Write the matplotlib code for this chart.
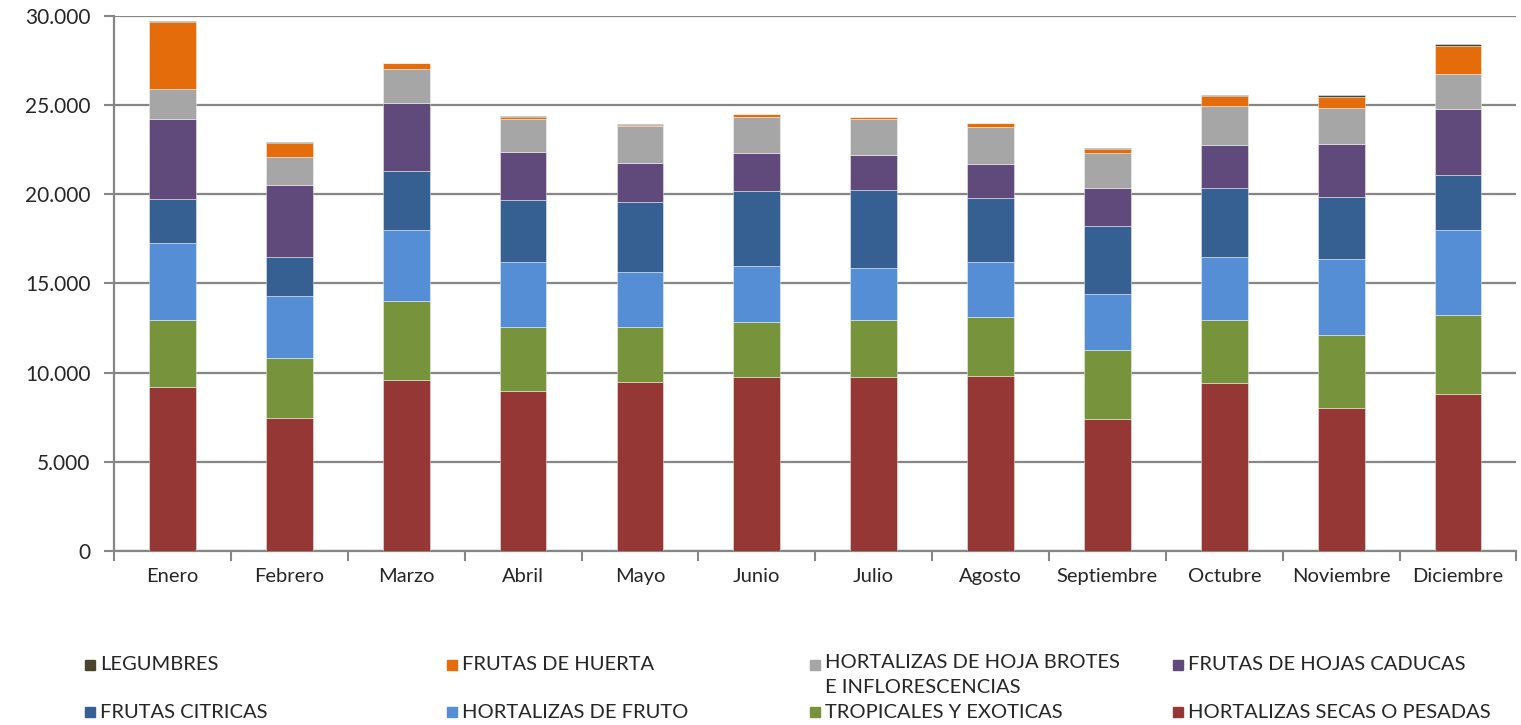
import numpy as np
import matplotlib.pyplot as plt
from matplotlib.patches import Rectangle
from matplotlib.ticker import FuncFormatter

plt.rcParams['font.family'] = ['Lato', 'DejaVu Sans']

months = ['Enero', 'Febrero', 'Marzo', 'Abril', 'Mayo', 'Junio', 'Julio',
          'Agosto', 'Septiembre', 'Octubre', 'Noviembre', 'Diciembre']

# stacked from bottom to top
secas = [9200, 7460, 9590, 8970, 9480, 9760, 9760, 9810, 7400, 9420, 8020, 8800]
tropicales = [3750, 3360, 4430, 3590, 3080, 3080, 3190, 3310, 3870, 3530, 4090, 4430]
fruto = [4320, 3480, 3980, 3650, 3080, 3140, 2920, 3080, 3140, 3530, 4260, 4770]
citricas = [2470, 2190, 3310, 3480, 3930, 4210, 4370, 3590, 3810, 3870, 3480, 3080]
caducas = [4490, 4040, 3810, 2690, 2190, 2130, 1960, 1910, 2130, 2410, 2970, 3700]
hoja = [1680, 1570, 1910, 1850, 2070, 2020, 2020, 2080, 1960, 2190, 2020, 1960]
huerta = [3760, 790, 330, 110, 60, 170, 110, 220, 220, 560, 620, 1570]
legumbres = [60, 40, 20, 50, 30, 15, 15, 15, 60, 60, 110, 110]

series = [
    ('HORTALIZAS SECAS O PESADAS', secas, '#953735'),
    ('TROPICALES Y EXOTICAS', tropicales, '#77933C'),
    ('HORTALIZAS DE FRUTO', fruto, '#558ED5'),
    ('FRUTAS CITRICAS', citricas, '#376092'),
    ('FRUTAS DE HOJAS CADUCAS', caducas, '#604A7B'),
    ('HORTALIZAS DE HOJA BROTES\nE INFLORESCENCIAS', hoja, '#A6A6A6'),
    ('FRUTAS DE HUERTA', huerta, '#E46C0A'),
    ('LEGUMBRES', legumbres, '#4A452A'),
]

grid_c = '#868686'
text_c = '#262626'

fig = plt.figure(figsize=(15.21, 7.25), dpi=100)
ax = fig.add_axes([0.075, 0.24, 0.922, 0.738])

x = np.arange(len(months))
bottom = np.zeros(len(months))
for name, vals, col in series:
    ax.bar(x, vals, width=0.4, bottom=bottom, color=col,
           edgecolor=(1, 1, 1, 0.5), linewidth=0.6, zorder=3)
    bottom += np.array(vals)

ax.set_xlim(-0.5, 11.5)
ax.set_ylim(0, 30000)
ax.set_yticks(np.arange(0, 30001, 5000))
ax.yaxis.set_major_formatter(FuncFormatter(lambda v, p: f'{int(v):,}'.replace(',', '.')))
ax.yaxis.grid(True, color=grid_c, linewidth=1.6, zorder=0)
ax.set_axisbelow(True)

ax.set_xticks(x)
ax.set_xticklabels(months)
ax.set_xticks(np.arange(-0.5, 12, 1), minor=True)
ax.tick_params(axis='x', which='major', length=0, pad=12, labelsize=14.5, labelcolor=text_c)
ax.tick_params(axis='x', which='minor', length=7, width=1.5, color=grid_c)
ax.tick_params(axis='y', length=7, width=1.5, color=grid_c, pad=10, labelsize=15, labelcolor=text_c)

for s in ['top', 'right']:
    ax.spines[s].set_visible(False)
for s in ['left', 'bottom']:
    ax.spines[s].set_color(grid_c)
    ax.spines[s].set_linewidth(1.6)

# legend laid out in a 4x2 grid like the original
order = [7, 6, 5, 4, 3, 2, 1, 0]
col_x = [0.0559, 0.2939, 0.5325, 0.7712]
row_y = [1 - 665 / 725, 1 - 712 / 725]
W, H = fig.get_size_inches() * fig.dpi
for i, idx in enumerate(order):
    name, vals, col = series[idx]
    cx = col_x[i % 4]
    cy = row_y[i // 4]
    fig.add_artist(Rectangle((cx, cy - 5 / H), 10 / W, 10 / H,
                             transform=fig.transFigure, color=col))
    if '\n' in name:
        fig.text(cx + 15 / W, cy + 11 / H, name, va='top', ha='left',
                 fontsize=14.5, color=text_c, linespacing=1.55)
    else:
        fig.text(cx + 15 / W, cy, name, va='center', ha='left',
                 fontsize=14.5, color=text_c)

fig.savefig('out.png', dpi=100)
